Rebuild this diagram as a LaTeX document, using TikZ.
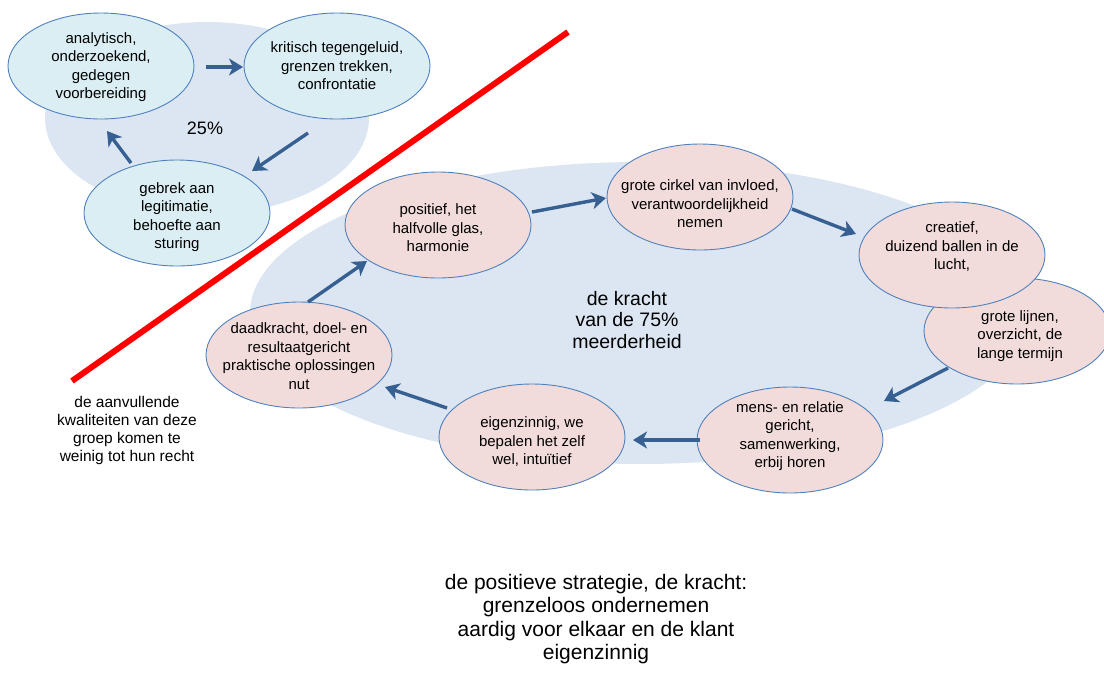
\documentclass[tikz,border=0pt]{standalone}
\usepackage{fontspec}
\setmainfont{Liberation Sans}
\usetikzlibrary{shapes.geometric,arrows.meta,calc}

\definecolor{bgblue}{HTML}{DCE6F2}
\definecolor{cyanfill}{HTML}{DAEEF3}
\definecolor{pinkfill}{HTML}{F2DCDB}
\definecolor{edgeblue}{HTML}{4F81BD}
\definecolor{arrowblue}{HTML}{376092}

\begin{document}
\begin{tikzpicture}[x=1pt,y=-1pt,
  bgell/.style={ellipse, fill=bgblue, draw=none, inner sep=0},
  ovalbox/.style={ellipse, draw=edgeblue, line width=0.9pt,
    minimum width=186pt, minimum height=106pt, inner sep=0},
  cyanell/.style={ovalbox, fill=cyanfill},
  pinkell/.style={ovalbox, fill=pinkfill},
  txt/.style={align=center, inner sep=0, font=\fontsize{15}{18.5}\selectfont},
  arr/.style={draw=arrowblue, line width=3.4pt,
    -{Stealth[length=14pt,width=17pt,inset=4pt]}},
  redline/.style={draw=red, line width=6pt}
]
\useasboundingbox (0,0) rectangle (1104,673);
\clip (0,0) rectangle (1104,673);

% background groups
\node[bgell, minimum width=324pt, minimum height=192pt] (bgsmall) at (207,118) {};
\node[bgell, minimum width=780pt, minimum height=302pt] (bgbig) at (640,313) {};

% dividing line
\draw[redline] (72,381) -- (568,32);

% the 25% cycle
\node[cyanell] (an) at (101,66) {};
\node[cyanell] (kr) at (337,66) {};
\node[cyanell] (ge) at (177,213) {};
\node[txt] (an-t) at (101,67) {analytisch,\\onderzoekend,\\gedegen\\voorbereiding};
\node[txt] (kr-t) at (337,66) {kritisch tegengeluid,\\grenzen trekken,\\confrontatie};
\node[txt] (ge-t) at (177,217) {gebrek aan\\legitimatie,\\behoefte aan\\sturing};
\node[txt, font=\fontsize{18}{21}\selectfont] (pct25) at (205,128) {25\%};

\draw[arr] ($(an)+(105,1)$) -- ($(kr)+(-94,1)$);
\draw[arr] ($(kr)+(-29,67)$) -- ($(ge)+(75,-42)$);
\draw[arr] ($(ge)+(-46,-50)$) -- ($(an)+(6,65)$);

% the 75% cycle
\node[pinkell] (po) at (438,225) {};
\node[pinkell] (gc) at (700,197) {};
\node[pinkell] (gl) at (1017,331) {};
\node[pinkell] (cr) at (952,255) {};
\node[pinkell] (me) at (790,440) {};
\node[pinkell] (ei) at (532,437) {};
\node[pinkell] (da) at (299,355) {};

\node[txt] (po-t) at (438,228) {positief, het\\halfvolle glas,\\harmonie};
\node[txt] (gc-t) at (700,204) {grote cirkel van invloed,\\verantwoordelijkheid\\nemen};
\node[txt] (cr-t) at (952,247) {creatief,\\duizend ballen in de\\lucht,};
\node[txt] (gl-t) at (1020,336) {grote lijnen,\\overzicht, de\\lange termijn};
\node[txt] (me-t) at (790,436) {mens- en relatie\\gericht,\\samenwerking,\\erbij horen};
\node[txt] (ei-t) at (532,442) {eigenzinnig, we\\bepalen het zelf\\wel, intuïtief};
\node[txt] (da-t) at (299,356) {daadkracht, doel- en\\resultaatgericht\\praktische oplossingen\\nut};
\node[txt, font=\fontsize{19.5}{21.5}\selectfont] (kracht) at (627,320) {de kracht\\van de 75\%\\meerderheid};

\draw[arr] ($(da)+(9,-53)$) -- ($(po)+(-71,36)$);
\draw[arr] ($(po)+(94,-13)$) -- ($(gc)+(-94,1)$);
\draw[arr] ($(gc)+(92,12)$) -- ($(cr)+(-96,-21)$);
\draw[arr] ($(gl)+(-69,37)$) -- ($(me)+(94,-39)$);
\draw[arr] ($(me)+(-90,0)$) -- ($(ei)+(101,3)$);
\draw[arr] ($(ei)+(-85,-29)$) -- ($(da)+(86,32)$);

% notes
\node[txt, font=\fontsize{15.5}{18}\selectfont] (note) at (127,430)
  {de aanvullende\\kwaliteiten van deze\\groep komen te\\weinig tot hun recht};
\node[txt, font=\fontsize{21}{23.5}\selectfont] (strategy) at (596,619)
  {de positieve strategie, de kracht:\\grenzeloos ondernemen\\aardig voor elkaar en de klant\\eigenzinnig};
\end{tikzpicture}
\end{document}
